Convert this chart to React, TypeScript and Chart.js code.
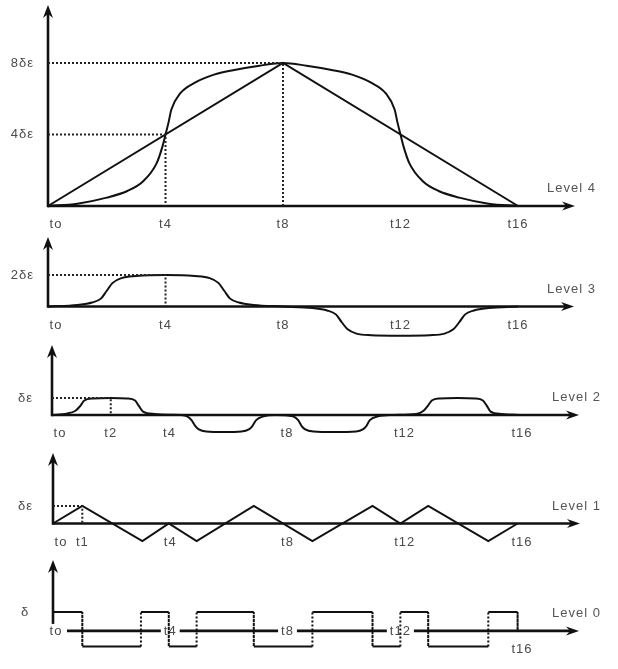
import React, { useEffect, useRef } from "react";
import { Chart, registerables } from "chart.js";

Chart.register(...registerables);

const CANVAS_W = 618;
const FONT = '13px "Liberation Sans", Arial, sans-serif';

// ---------- Level 4 ----------
const level4CurveT = [0, 1, 2, 2.7, 3.25, 3.7, 3.9, 4, 4.1, 4.2, 4.5, 5, 5.65, 6.3, 7.2, 8, 8.8, 9.7, 10.35, 11, 11.5, 11.8, 11.9, 12, 12.1, 12.3, 12.75, 13.3, 14, 15, 16];
const level4CurveV = [0, 0.13, 0.47, 0.84, 1.4, 2.4, 3.35, 4, 4.65, 5.4, 6.3, 6.9, 7.35, 7.6, 7.85, 8, 7.85, 7.6, 7.35, 6.9, 6.3, 5.4, 4.65, 4, 3.35, 2.4, 1.4, 0.84, 0.47, 0.13, 0];
const level4RampT = [0, 8, 16];
const level4RampV = [0, 8, 0];
const level4GuideAT = [0, 8, 8];
const level4GuideAV = [8, 8, 0];
const level4GuideBT = [0, 4, 4];
const level4GuideBV = [4, 4, 0];
const level4TickT = [0, 4, 8, 12, 16];
const level4TickText = ["to", "t4", "t8", "t12", "t16"];
const level4YLabelV = [8, 4];
const level4YLabelText = ["8δε", "4δε"];

// ---------- Level 3 ----------
const level3CurveT = [0, 1, 1.5, 1.8, 2, 2.2, 2.5, 3, 4, 5, 5.5, 5.8, 6, 6.2, 6.5, 7, 8, 9, 9.5, 9.8, 10, 10.2, 10.5, 11, 12, 13, 13.5, 13.8, 14, 14.2, 14.5, 15, 16];
const level3CurveV = [0, 0.1, 0.25, 0.5, 1.0, 1.5, 1.8, 1.93, 2.0, 1.93, 1.8, 1.5, 1.0, 0.5, 0.25, 0.1, 0, -0.1, -0.25, -0.5, -1.0, -1.45, -1.72, -1.82, -1.85, -1.82, -1.72, -1.45, -1.0, -0.5, -0.25, -0.1, 0];
const level3GuideT = [0, 4, 4];
const level3GuideV = [2, 2, 0];
const level3TickT = [0, 4, 8, 12, 16];
const level3TickText = ["to", "t4", "t8", "t12", "t16"];
const level3YLabelV = [2];
const level3YLabelText = ["2δε"];

// ---------- Level 2 ----------
const level2CurveT = [0, 0.5, 0.8, 0.97, 1.1, 1.4, 2, 2.55, 2.83, 2.95, 3.1, 3.5, 4, 4.4, 4.6, 4.75, 4.88, 5.0, 5.25, 5.85, 6.45, 6.7, 6.82, 6.95, 7.2, 7.6, 8.2, 8.38, 8.5, 8.62, 8.9, 9.6, 10.35, 10.58, 10.7, 10.82, 11.1, 11.6, 12.4, 12.65, 12.8, 12.93, 13.2, 13.8, 14.4, 14.67, 14.8, 14.93, 15.3, 16];
const level2CurveV = [0, 0.08, 0.25, 0.55, 0.85, 0.97, 1, 0.97, 0.85, 0.55, 0.2, 0.06, 0.02, 0, -0.08, -0.3, -0.65, -0.85, -0.97, -1, -0.97, -0.85, -0.65, -0.3, -0.08, 0, -0.08, -0.3, -0.65, -0.85, -0.97, -1, -0.97, -0.85, -0.65, -0.3, -0.08, 0, 0.06, 0.25, 0.55, 0.85, 0.97, 1, 0.97, 0.85, 0.55, 0.2, 0.06, 0];
const level2GuideT = [0, 2, 2];
const level2GuideV = [1, 1, 0];
const level2TickT = [0, 2, 4, 8, 12, 16];
const level2TickText = ["to", "t2", "t4", "t8", "t12", "t16"];
const level2YLabelV = [1];
const level2YLabelText = ["δε"];

// ---------- Level 1 ----------
const level1T = [0, 1, 3.05, 3.95, 4.9, 6.85, 8.85, 10.9, 11.85, 12.8, 14.85, 15.85];
const level1V = [0, 1, -1, 0, -1, 1, -1, 1, 0, 1, -1, 0];
const level1GuideT = [0, 1, 1];
const level1GuideV = [1, 1, 0];
const level1TickT = [0, 1, 4, 8, 12, 16];
const level1TickText = ["to", "t1", "t4", "t8", "t12", "t16"];
const level1YLabelV = [1];
const level1YLabelText = ["δε"];

// ---------- Level 0 ----------
const level0Edges = [0, 1, 3, 3.95, 4.9, 6.85, 8.85, 10.9, 11.85, 12.8, 14.85, 15.85];
const level0Values = [1, -0.82, 1, -0.82, 1, -0.82, 1, -0.82, 1, -0.82, 1];
const level0AxisTickT = [0, 4, 8, 11.85];
const level0AxisTickText = ["to", "t4", "t8", "t12"];
const level0TickT = [16];
const level0TickText = ["t16"];
const level0YLabelV = [1];
const level0YLabelText = ["δ"];

// ---------- helpers ----------
const pts = (t: number[], v: number[]) => t.map((x, i) => ({ x, y: v[i] }));

function stepPoints(edges: number[], values: number[]) {
  const out: { x: number; y: number }[] = [];
  for (let i = 0; i < values.length; i++) {
    out.push({ x: edges[i], y: values[i] });
    out.push({ x: edges[i + 1], y: values[i] });
  }
  out.push({ x: edges[edges.length - 1], y: 0 });
  return out;
}

const solid = (data: any[], smooth: boolean) => ({
  data,
  borderColor: "#111",
  borderWidth: 2,
  pointRadius: 0,
  fill: false,
  clip: false as const,
  tension: 0,
  cubicInterpolationMode: smooth ? ("monotone" as const) : ("default" as const),
});

const dotted = (data: any[]) => ({
  data,
  borderColor: "#222",
  borderWidth: 2,
  borderDash: [2, 2],
  pointRadius: 0,
  fill: false,
  clip: false as const,
  tension: 0,
});

function arrowRight(ctx: CanvasRenderingContext2D, x: number, y: number) {
  ctx.beginPath();
  ctx.moveTo(x, y);
  ctx.lineTo(x - 13, y - 4.5);
  ctx.lineTo(x - 9, y);
  ctx.lineTo(x - 13, y + 4.5);
  ctx.closePath();
  ctx.fill();
}

function arrowUp(ctx: CanvasRenderingContext2D, x: number, y: number) {
  ctx.beginPath();
  ctx.moveTo(x, y);
  ctx.lineTo(x - 5, y + 13);
  ctx.lineTo(x, y + 9);
  ctx.lineTo(x + 5, y + 13);
  ctx.closePath();
  ctx.fill();
}

const decorPlugin = {
  id: "decor",
  beforeDatasetsDraw(chart: any, _args: any, o: any) {
    const ctx: CanvasRenderingContext2D = chart.ctx;
    const xs = chart.scales.x;
    const ys = chart.scales.y;
    const x0 = xs.getPixelForValue(0);
    const y0 = ys.getPixelForValue(0);
    ctx.save();
    ctx.strokeStyle = "#111";
    ctx.fillStyle = "#111";
    ctx.lineWidth = 2.6;
    // y axis
    ctx.beginPath();
    ctx.moveTo(x0, y0 + 1.3);
    ctx.lineTo(x0, o.arrowTop + 9);
    ctx.stroke();
    arrowUp(ctx, x0, o.arrowTop);
    // x axis
    const xStart = o.axisStart ?? x0;
    ctx.beginPath();
    ctx.moveTo(xStart, y0);
    ctx.lineTo(o.arrowRight - 9, y0);
    ctx.stroke();
    arrowRight(ctx, o.arrowRight, y0);

    ctx.font = FONT;
    (ctx as any).letterSpacing = "1px";
    ctx.textBaseline = "middle";
    ctx.fillStyle = "#4a4a4a";

    // y labels
    ctx.textAlign = o.yLabelAlign;
    o.yLabelV.forEach((v: number, i: number) => {
      ctx.fillText(o.yLabelText[i], o.yLabelX, ys.getPixelForValue(v));
    });

    // ticks below axis
    ctx.textAlign = "center";
    o.tickT.forEach((t: number, i: number) => {
      const px = xs.getPixelForValue(t) + (t === 0 ? 8 : 0);
      ctx.fillText(o.tickText[i], px, y0 + 18.5);
    });

    // ticks on the axis (Level 0)
    (o.axisTickT || []).forEach((t: number, i: number) => {
      const px = xs.getPixelForValue(t) + (t === 0 ? 3 : 0);
      const txt = o.axisTickText[i];
      const w = ctx.measureText(txt).width;
      ctx.fillStyle = "#fff";
      ctx.fillRect(px - w / 2 - 3, y0 - 7, w + 6, 14);
      ctx.fillStyle = "#4a4a4a";
      ctx.fillText(txt, px, y0 + 1);
    });

    // level name
    ctx.textAlign = "left";
    ctx.fillStyle = "#555";
    ctx.fillText(o.levelText, o.levelX, y0 - 17.5);
    ctx.restore();
  },
};

type Panel = {
  top: number;
  height: number;
  left: number;
  right: number;
  padTop: number;
  padBottom: number;
  yMin: number;
  yMax: number;
  datasets: any[];
  decor: any;
};

const panels: Panel[] = [
  {
    top: 0, height: 240, left: 48, right: 100, padTop: 63, padBottom: 34, yMin: 0, yMax: 8,
    datasets: [
      dotted(pts(level4GuideAT, level4GuideAV)),
      dotted(pts(level4GuideBT, level4GuideBV)),
      solid(pts(level4RampT, level4RampV), false),
      solid(pts(level4CurveT, level4CurveV), true),
    ],
    decor: {
      arrowTop: 5, arrowRight: 575, levelText: "Level 4", levelX: 547,
      yLabelV: level4YLabelV, yLabelText: level4YLabelText, yLabelX: 34, yLabelAlign: "right",
      tickT: level4TickT, tickText: level4TickText,
    },
  },
  {
    top: 230, height: 115, left: 48, right: 100, padTop: 45, padBottom: 7, yMin: -2, yMax: 2,
    datasets: [
      dotted(pts(level3GuideT, level3GuideV)),
      solid(pts(level3CurveT, level3CurveV), true),
    ],
    decor: {
      arrowTop: 7, arrowRight: 574, levelText: "Level 3", levelX: 547,
      yLabelV: level3YLabelV, yLabelText: level3YLabelText, yLabelX: 34, yLabelAlign: "right",
      tickT: level3TickT, tickText: level3TickText,
    },
  },
  {
    top: 340, height: 110, left: 52, right: 96, padTop: 58, padBottom: 18, yMin: -1, yMax: 1,
    datasets: [
      dotted(pts(level2GuideT, level2GuideV)),
      solid(pts(level2CurveT, level2CurveV), true),
    ],
    decor: {
      arrowTop: 5, arrowRight: 579, levelText: "Level 2", levelX: 552,
      yLabelV: level2YLabelV, yLabelText: level2YLabelText, yLabelX: 33, yLabelAlign: "right",
      tickT: level2TickT, tickText: level2TickText,
    },
  },
  {
    top: 445, height: 110, left: 53, right: 96, padTop: 61, padBottom: 14, yMin: -1, yMax: 1,
    datasets: [
      dotted(pts(level1GuideT, level1GuideV)),
      solid(pts(level1T, level1V), false),
    ],
    decor: {
      arrowTop: 8, arrowRight: 580, levelText: "Level 1", levelX: 552,
      yLabelV: level1YLabelV, yLabelText: level1YLabelText, yLabelX: 33, yLabelAlign: "right",
      tickT: level1TickT, tickText: level1TickText,
    },
  },
  {
    top: 550, height: 119, left: 53, right: 96, padTop: 62, padBottom: 22, yMin: -0.85, yMax: 1,
    datasets: [
      {
        ...solid(stepPoints(level0Edges, level0Values), false),
        segment: {
          borderDash: (c: any) => (c.p0.parsed.x === c.p1.parsed.x ? [2, 2] : undefined),
        },
      },
    ],
    decor: {
      arrowTop: 10, arrowRight: 579, levelText: "Level 0", levelX: 552, axisStart: 67,
      yLabelV: level0YLabelV, yLabelText: level0YLabelText, yLabelX: 25, yLabelAlign: "center",
      tickT: level0TickT, tickText: level0TickText,
      axisTickT: level0AxisTickT, axisTickText: level0AxisTickText,
    },
  },
];

function PanelChart({ panel }: { panel: Panel }) {
  const ref = useRef<HTMLCanvasElement>(null);
  useEffect(() => {
    if (!ref.current) return;
    const chart = new Chart(ref.current, {
      type: "line",
      data: { datasets: panel.datasets },
      options: {
        responsive: false,
        animation: false,
        devicePixelRatio: 1,
        events: [],
        layout: {
          padding: { left: panel.left, right: panel.right, top: panel.padTop, bottom: panel.padBottom },
        },
        scales: {
          x: { type: "linear", min: 0, max: 16, display: false },
          y: { type: "linear", min: panel.yMin, max: panel.yMax, display: false },
        },
        plugins: {
          legend: { display: false },
          tooltip: { enabled: false },
          decor: panel.decor,
        } as any,
      },
      plugins: [decorPlugin],
    });
    return () => chart.destroy();
  }, [panel]);
  return (
    <canvas
      ref={ref}
      width={CANVAS_W}
      height={panel.height}
      style={{ position: "absolute", left: 0, top: panel.top, width: CANVAS_W, height: panel.height, display: "block" }}
    />
  );
}

export default function App() {
  return (
    <div style={{ position: "absolute", left: 0, top: 0, width: CANVAS_W, height: 669, background: "#fff" }}>
      {panels.map((p, i) => (
        <PanelChart key={i} panel={p} />
      ))}
    </div>
  );
}
